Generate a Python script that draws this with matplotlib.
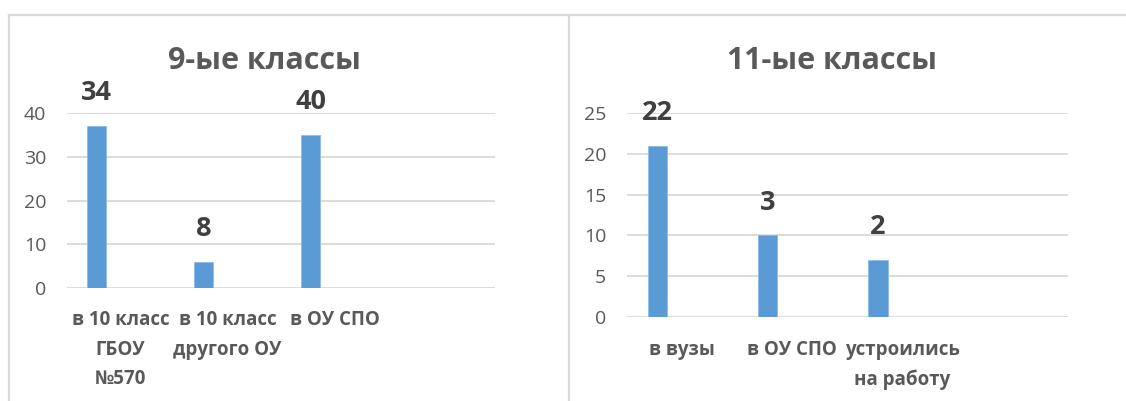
import matplotlib
matplotlib.use("Agg")
import matplotlib.pyplot as plt
from matplotlib.lines import Line2D

plt.rcParams["font.family"] = ["Open Sans", "DejaVu Sans"]

# ---- data ------------------------------------------------------------------
cats_9 = ["в 10 класс\nГБОУ\n№570", "в 10 класс\nдругого ОУ", "в ОУ СПО", ""]
vals_9 = [37, 6, 35]
labels_9 = ["34", "8", "40"]
yticks_9 = [0, 10, 20, 30, 40]

cats_11 = ["в вузы", "в ОУ СПО", "устроились\nна работу", ""]
vals_11 = [21, 10, 7]
labels_11 = ["22", "3", "2"]
yticks_11 = [0, 5, 10, 15, 20, 25]

BLUE = "#5b9bd5"
GRID = "#d9d9d9"
TXT = "#595959"
LBL = "#404040"

W, H = 1126, 401
fig = plt.figure(figsize=(W / 100, H / 100), dpi=100)


def px(x0, y0, x1, y1):
    # pixel box (top-left origin) -> figure fraction rect
    return [x0 / W, 1 - y1 / H, (x1 - x0) / W, (y1 - y0) / H]


def panel(rect, cats, vals, labels, yticks, title, title_xy, xpad):
    ax = fig.add_axes(rect)
    xs = range(len(vals))
    ax.bar([x - 0.224 for x in xs], vals, width=0.175, color=BLUE,
           edgecolor="#8fbbe6", linewidth=0.6, zorder=3)
    for x, v, t in zip(xs, vals, labels):
        ax.annotate(t, (x - 0.224, v), textcoords="offset points",
                    xytext=(0, 23.5), ha="center", va="center",
                    fontsize=19.5, fontweight="bold", color=LBL,
                    annotation_clip=False)
    ax.set_xlim(-0.5, len(cats) - 0.5)
    ax.set_ylim(yticks[0], yticks[-1])
    ax.set_yticks(yticks)
    ax.set_xticks(range(len(cats)), cats)
    ax.grid(axis="y", color=GRID, lw=1.3, zorder=0)
    for s in ax.spines.values():
        s.set_visible(False)
    ax.tick_params(axis="y", length=0, pad=15, labelsize=14, labelcolor=TXT)
    ax.tick_params(axis="x", length=0, pad=xpad, labelsize=13.5,
                   labelcolor=TXT)
    for t in ax.get_xticklabels():
        t.set_fontweight("bold")
        t.set_linespacing(1.62)
    fig.text(title_xy[0] / W, 1 - title_xy[1] / H, title, ha="center",
             va="center", fontsize=22, fontweight="bold", color=TXT)
    return ax


panel(px(67, 113, 495, 288), cats_9, vals_9, labels_9, yticks_9,
      "9-ые классы", (264, 61), 16)
panel(px(627, 113, 1068, 317), cats_11, vals_11, labels_11, yticks_11,
      "11-ые классы", (832, 61), 16.5)

# panel frames
for xs, ys in [([8.5, 1126], [14.5, 14.5]), ([8.5, 8.5], [14.5, 401]),
               ([568.5, 568.5], [14.5, 401])]:
    fig.add_artist(Line2D([x / W for x in xs], [1 - y / H for y in ys],
                          color=GRID, lw=1.6))

fig.savefig("out.png", dpi=100)
